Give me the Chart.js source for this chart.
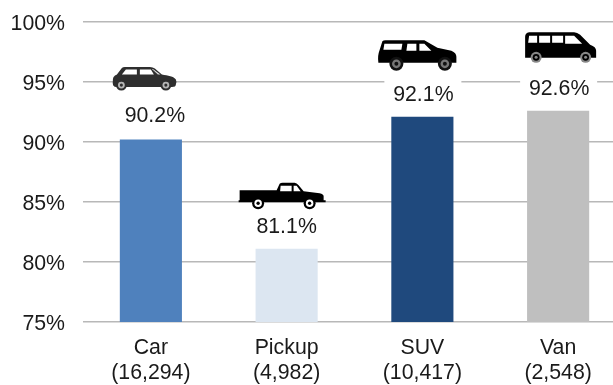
<!DOCTYPE html>
<html>
<head>
<meta charset="utf-8">
<style>
html, body { margin: 0; padding: 0; background: #fff; overflow: hidden; }
#wrap { width: 613px; height: 385px; overflow: hidden; }
canvas { display: block; }
</style>
<script src="https://cdn.jsdelivr.net/npm/chart.js@4"></script>
</head>
<body>
<div id="wrap"><canvas id="chart" width="626" height="385"></canvas></div>
<script>
var categories = ["Car", "Pickup", "SUV", "Van"];
var counts = ["(16,294)", "(4,982)", "(10,417)", "(2,548)"];
var shares = [90.2, 81.1, 92.1, 92.6];
var barColors = ["#4f81bd", "#dce6f1", "#1f497d", "#bfbfbf"];
var icons = ["car", "pickup", "suv", "van"];

var fontFamily = "'Liberation Sans', Arial, sans-serif";
var textColor = "#1a1a1a";
var gridColor = "#b8b8b8";

function wheel(ctx, x, y, r, tyre, hub) {
    ctx.fillStyle = tyre;
    ctx.beginPath();
    ctx.arc(x, y, r, 0, Math.PI * 2);
    ctx.fill();
    ctx.fillStyle = hub;
    ctx.beginPath();
    ctx.arc(x, y, r * 0.62, 0, Math.PI * 2);
    ctx.fill();
    ctx.fillStyle = tyre;
    ctx.beginPath();
    ctx.arc(x, y, r * 0.28, 0, Math.PI * 2);
    ctx.fill();
}

// each icon is drawn in its own little pixel box, placed from the bar position
var iconShapes = {
    car: {
        dx: -39, dy: -73, labelDx: 4, labelDy: -23,
        draw: function (ctx) {
            ctx.fillStyle = "#2e2e2e";
            ctx.fill(new Path2D("M1 14 C1 10 3 9 5 8 L10 1.5 Q11 0.5 13 0.5 L38 0.5 Q41 0.5 43 2 L50 8 C56 9 62 10 64 13 Q65 15 64 18 Q64 20.5 60 20.5 L4 20.5 Q0 20 1 14 Z"));
            ctx.fillStyle = "#fff";
            ctx.fill(new Path2D("M10 8 L14 3 L25 3 L25 8 Z M28 3 L39 3 L42 8 L28 8 Z"));
            ctx.fillStyle = "#ddd";
            ctx.fill(new Path2D("M41 2.5 L48.5 8 L46 8 L40 2.5 Z"));
            wheel(ctx, 9.5, 18.5, 5.5, "#2e2e2e", "#b5b5b5");
            wheel(ctx, 54, 18.5, 5.5, "#2e2e2e", "#b5b5b5");
        }
    },
    pickup: {
        dx: -48, dy: -66.5, labelDx: 0, labelDy: -21.5,
        draw: function (ctx) {
            ctx.fillStyle = "#000";
            ctx.fill(new Path2D("M1 8 L38 8 L41 1.5 Q42 0.5 44 0.5 L56 0.5 Q58 0.5 60 3 L65 9 L81 11 Q85 12 85 14 L85 18 L87 18 L87 20 L0 20 L0 18 L1 18 Z"));
            ctx.fillStyle = "#fff";
            ctx.fill(new Path2D("M42 3.5 L53 3.5 L53 9 L41.5 9 Z M55 3.5 L58 3.5 L62 9 L55 9 Z"));
            wheel(ctx, 19.5, 21, 6, "#000", "#fff");
            wheel(ctx, 71, 21, 6, "#000", "#fff");
        }
    },
    suv: {
        dx: -45, dy: -77, labelDx: 1, labelDy: -21.5,
        mask: { x: 7, y: 0, w: 77, h: 46 },
        draw: function (ctx) {
            ctx.fillStyle = "#000";
            ctx.fill(new Path2D("M2 11 L5 1.5 Q6 0.5 8 0.5 L47 0.5 L60 8 L74 11 Q79 13 79 17 L79 23 L1 23 Q0 16 2 11 Z"));
            ctx.fillStyle = "#fff";
            ctx.fill(new Path2D("M7 4 L25 4 L24 10 L6 10 Z M30 4 L39 4 L39 11 L29 11 Z M42 4 L47 4 L54 11 L42 11 Z"));
            wheel(ctx, 19, 24, 7, "#111", "#777");
            wheel(ctx, 67.5, 24, 7, "#111", "#777");
        }
    },
    van: {
        dx: -34, dy: -79, labelDx: 1, labelDy: -21.5,
        mask: { x: -4, y: 0, w: 77, h: 54 },
        draw: function (ctx) {
            ctx.fillStyle = "#000";
            ctx.fill(new Path2D("M1 5 Q1 1 5 0.5 L50 0.5 Q53 0.5 56 3 L66 13 Q72 15 72 19 L72 26 L1 26 Z"));
            ctx.fillStyle = "#fff";
            ctx.fill(new Path2D("M5 4 L13 4 L13 11 L4 11 Z M15 4 L26 4 L26 11 L15 11 Z M28 4 L39 4 L39 11 L28 11 Z M41 4 L50 4 L58 12 L41 12 Z"));
            wheel(ctx, 12, 25.5, 5.5, "#888", "#000");
            wheel(ctx, 61.5, 25.5, 5.5, "#888", "#000");
        }
    }
};

var barDecorations = {
    id: "barDecorations",
    afterDraw: function (chart) {
        var ctx = chart.ctx;
        var bars = chart.getDatasetMeta(0).data;
        bars.forEach(function (bar, i) {
            var shape = iconShapes[icons[i]];
            ctx.save();
            ctx.translate(bar.x + shape.dx, bar.y + shape.dy);
            if (shape.mask) {
                ctx.fillStyle = "#fff";
                ctx.fillRect(shape.mask.x, shape.mask.y, shape.mask.w, shape.mask.h);
            }
            shape.draw(ctx);
            ctx.restore();

            ctx.save();
            ctx.font = "21.3px " + fontFamily;
            ctx.fillStyle = textColor;
            ctx.textAlign = "center";
            ctx.textBaseline = "middle";
            ctx.fillText(shares[i].toFixed(1) + "%", bar.x + shape.labelDx, bar.y + shape.labelDy);
            ctx.restore();
        });
    }
};

new Chart(document.getElementById("chart"), {
    type: "bar",
    data: {
        labels: categories.map(function (name, i) { return [name, counts[i]]; }),
        datasets: [{
            data: shares,
            backgroundColor: barColors,
            categoryPercentage: 1,
            barPercentage: 0.4576
        }]
    },
    options: {
        responsive: false,
        animation: false,
        layout: { padding: { top: 22, right: 0, left: 0, bottom: 0 } },
        plugins: {
            legend: { display: false },
            tooltip: { enabled: false }
        },
        scales: {
            y: {
                min: 75,
                max: 100,
                afterFit: function (scale) {
                    scale.width = 83;
                    scale.paddingTop = 0;
                    scale.paddingBottom = 0;
                },
                border: { display: false },
                grid: { color: gridColor, lineWidth: 1.5, drawTicks: false },
                ticks: {
                    stepSize: 5,
                    padding: 18,
                    labelOffset: 2,
                    color: textColor,
                    font: { family: fontFamily, size: 21.3 },
                    callback: function (value) { return value + "%"; }
                }
            },
            x: {
                afterFit: function (scale) {
                    scale.height = 63;
                    scale.paddingLeft = 0;
                    scale.paddingRight = 0;
                },
                border: { display: false },
                grid: { display: false },
                ticks: {
                    padding: 6,
                    maxRotation: 0,
                    color: textColor,
                    font: { family: fontFamily, size: 21.3, lineHeight: 1.15 }
                }
            }
        }
    },
    plugins: [barDecorations]
});
</script>
</body>
</html>
